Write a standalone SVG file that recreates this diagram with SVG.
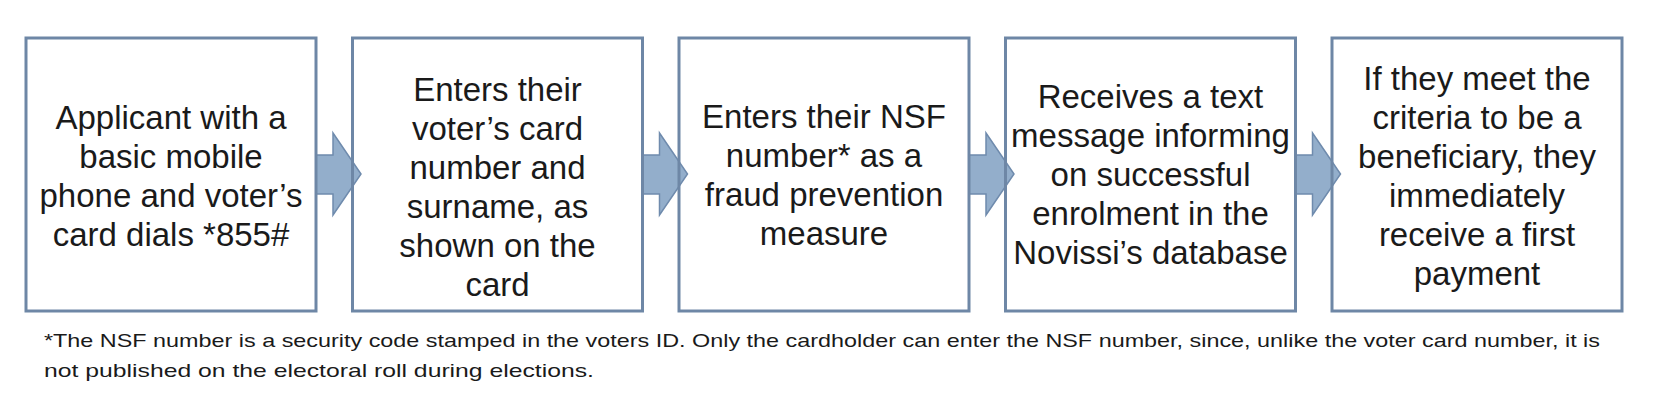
<svg xmlns="http://www.w3.org/2000/svg" width="1654" height="404" viewBox="0 0 1654 404">
<style>
.box{fill:none;stroke:#6E87A6;stroke-width:3}
.arr{fill:#93AECB;stroke:#6F8BAD;stroke-width:1.5;stroke-linejoin:miter}
.t{font-family:"Liberation Sans",Arial,sans-serif;font-size:33px;fill:#1a1a1a;text-anchor:middle}
.n{font-family:"Liberation Sans",Arial,sans-serif;font-size:19px;fill:#1a1a1a}
</style>
<rect width="1654" height="404" fill="#ffffff"/>
<g id="connectors">
<polygon class="arr" points="316,155 333,155 333,133 361,174 333,215 333,194 316,194"/>
<polygon class="arr" points="642.5,155 659.5,155 659.5,133 687.5,174 659.5,215 659.5,194 642.5,194"/>
<polygon class="arr" points="969,155 986,155 986,133 1014,174 986,215 986,194 969,194"/>
<polygon class="arr" points="1295.5,155 1312.5,155 1312.5,133 1340.5,174 1312.5,215 1312.5,194 1295.5,194"/>
</g>
<g id="node1">
<rect class="box" x="26" y="38" width="290" height="273"/>
<text class="t"><tspan x="171" y="129">Applicant with a</tspan><tspan x="171" y="168">basic mobile</tspan><tspan x="171" y="207">phone and voter’s</tspan><tspan x="171" y="246">card dials *855#</tspan></text>
</g>
<g id="node2">
<rect class="box" x="352.5" y="38" width="290" height="273"/>
<text class="t"><tspan x="497.5" y="101">Enters their</tspan><tspan x="497.5" y="140">voter’s card</tspan><tspan x="497.5" y="179">number and</tspan><tspan x="497.5" y="218">surname, as</tspan><tspan x="497.5" y="257">shown on the</tspan><tspan x="497.5" y="296">card</tspan></text>
</g>
<g id="node3">
<rect class="box" x="679" y="38" width="290" height="273"/>
<text class="t"><tspan x="824" y="128">Enters their NSF</tspan><tspan x="824" y="167">number* as a</tspan><tspan x="824" y="206">fraud prevention</tspan><tspan x="824" y="245">measure</tspan></text>
</g>
<g id="node4">
<rect class="box" x="1005.5" y="38" width="290" height="273"/>
<text class="t"><tspan x="1150.5" y="108">Receives a text</tspan><tspan x="1150.5" y="147">message informing</tspan><tspan x="1150.5" y="186">on successful</tspan><tspan x="1150.5" y="225">enrolment in the</tspan><tspan x="1150.5" y="264">Novissi’s database</tspan></text>
</g>
<g id="node5">
<rect class="box" x="1332" y="38" width="290" height="273"/>
<text class="t"><tspan x="1477" y="90">If they meet the</tspan><tspan x="1477" y="129">criteria to be a</tspan><tspan x="1477" y="168">beneficiary, they</tspan><tspan x="1477" y="207">immediately</tspan><tspan x="1477" y="246">receive a first</tspan><tspan x="1477" y="285">payment</tspan></text>
</g>
<g id="footnote">
<text class="n" x="44" y="347" textLength="1556" lengthAdjust="spacingAndGlyphs">*The NSF number is a security code stamped in the voters ID. Only the cardholder can enter the NSF number, since, unlike the voter card number, it is</text>
<text class="n" x="44" y="377" textLength="550" lengthAdjust="spacingAndGlyphs">not published on the electoral roll during elections.</text>
</g>
</svg>
